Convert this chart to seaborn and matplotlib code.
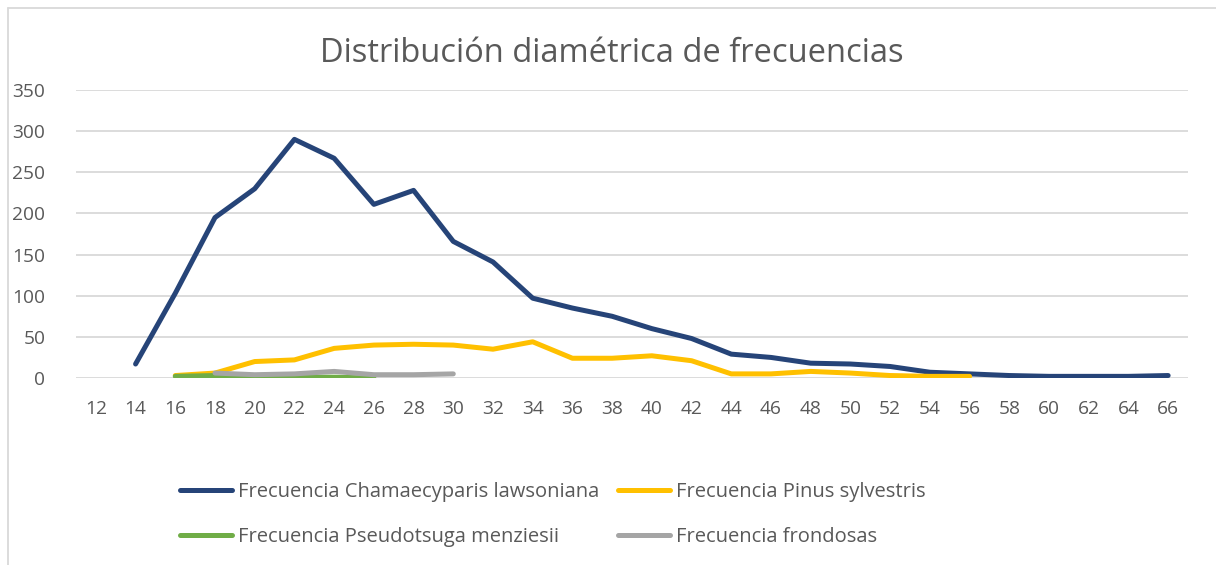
import pandas as pd
import numpy as np
import seaborn as sns
import matplotlib.pyplot as plt
from matplotlib.lines import Line2D

# diameter classes (cm)
diametros = list(range(12, 68, 2))

# frequencies per species
x_chamae = list(range(14, 68, 2))
chamae = [17, 103, 195, 230, 290, 267, 211, 228, 166, 141, 97, 85, 75, 60, 48,
          29, 25, 18, 17, 14, 7, 5, 3, 2, 2, 2, 3]
x_pinus = list(range(16, 58, 2))
pinus = [3, 6, 20, 22, 36, 40, 41, 40, 35, 44, 24, 24, 27, 21, 5, 5, 8, 6, 3, 2, 2]
x_pseudo = [16, 18, 20, 22, 24, 26]
pseudo = [2, 3, 1, 1, 1, 0]
x_frond = [18, 20, 22, 24, 26, 28, 30]
frond = [6, 4, 5, 8, 4, 4, 5]

nombres = ['Frecuencia Chamaecyparis lawsoniana', 'Frecuencia Pinus sylvestris',
           'Frecuencia Pseudotsuga menziesii', 'Frecuencia frondosas']
colores = ['#264478', '#FFC000', '#70AD47', '#A5A5A5']

df = pd.concat([
    pd.DataFrame({'Diametro': x_chamae, 'Frecuencia': chamae, 'Especie': nombres[0]}),
    pd.DataFrame({'Diametro': x_pinus, 'Frecuencia': pinus, 'Especie': nombres[1]}),
    pd.DataFrame({'Diametro': x_pseudo, 'Frecuencia': pseudo, 'Especie': nombres[2]}),
    pd.DataFrame({'Diametro': x_frond, 'Frecuencia': frond, 'Especie': nombres[3]}),
])

sns.set_style('white')
plt.rcParams['font.family'] = ['Open Sans', 'DejaVu Sans']
texto = '#595959'
rejilla = '#D9D9D9'

fig = plt.figure(figsize=(12.16, 5.65), dpi=100)
ax = fig.add_axes([76/1216, 1-378/565, 1112/1216, 288/565])

sns.lineplot(data=df, x='Diametro', y='Frecuencia', hue='Especie',
             palette=colores, hue_order=nombres, linewidth=3.6,
             solid_capstyle='round', solid_joinstyle='round', ax=ax, legend=False)

ax.set_xlim(11, 67)
ax.set_ylim(0, 350)
ax.set_xticks(diametros)
ax.set_xticklabels([str(d) for d in diametros])
ax.set_yticks(range(0, 351, 50))
ax.yaxis.grid(True, color=rejilla, linewidth=1.3)
ax.set_axisbelow(True)
for s in ax.spines.values():
    s.set_visible(False)
ax.tick_params(axis='both', length=0, labelsize=13.8, colors=texto)
ax.tick_params(axis='y', pad=22)
ax.tick_params(axis='x', pad=16)
ax.set_xlabel('')
ax.set_ylabel('')

fig.text(0.503, 1-53/565, 'Distribución diamétrica de frecuencias',
         ha='center', va='center', fontsize=23.5, color=texto)

# legend filled row by row like the original
orden = [0, 2, 1, 3]
handles = [Line2D([], [], color=colores[i], linewidth=3.6, solid_capstyle='round') for i in orden]
leg = fig.legend(handles, [nombres[i] for i in orden], ncol=2, loc='upper left',
                 bbox_to_anchor=(172/1216, 1-474/565), frameon=False,
                 fontsize=14.5, handlelength=2.6, handletextpad=0.3,
                 columnspacing=0.9, labelspacing=1.25, borderaxespad=0)
for t in leg.get_texts():
    t.set_color(texto)

# chart frame
fig.add_artist(Line2D([8/1216, 8/1216], [0, 1-8/565], color=rejilla, linewidth=1.3))
fig.add_artist(Line2D([8/1216, 1], [1-8/565, 1-8/565], color=rejilla, linewidth=1.3))

fig.savefig('out.png', dpi=100)
